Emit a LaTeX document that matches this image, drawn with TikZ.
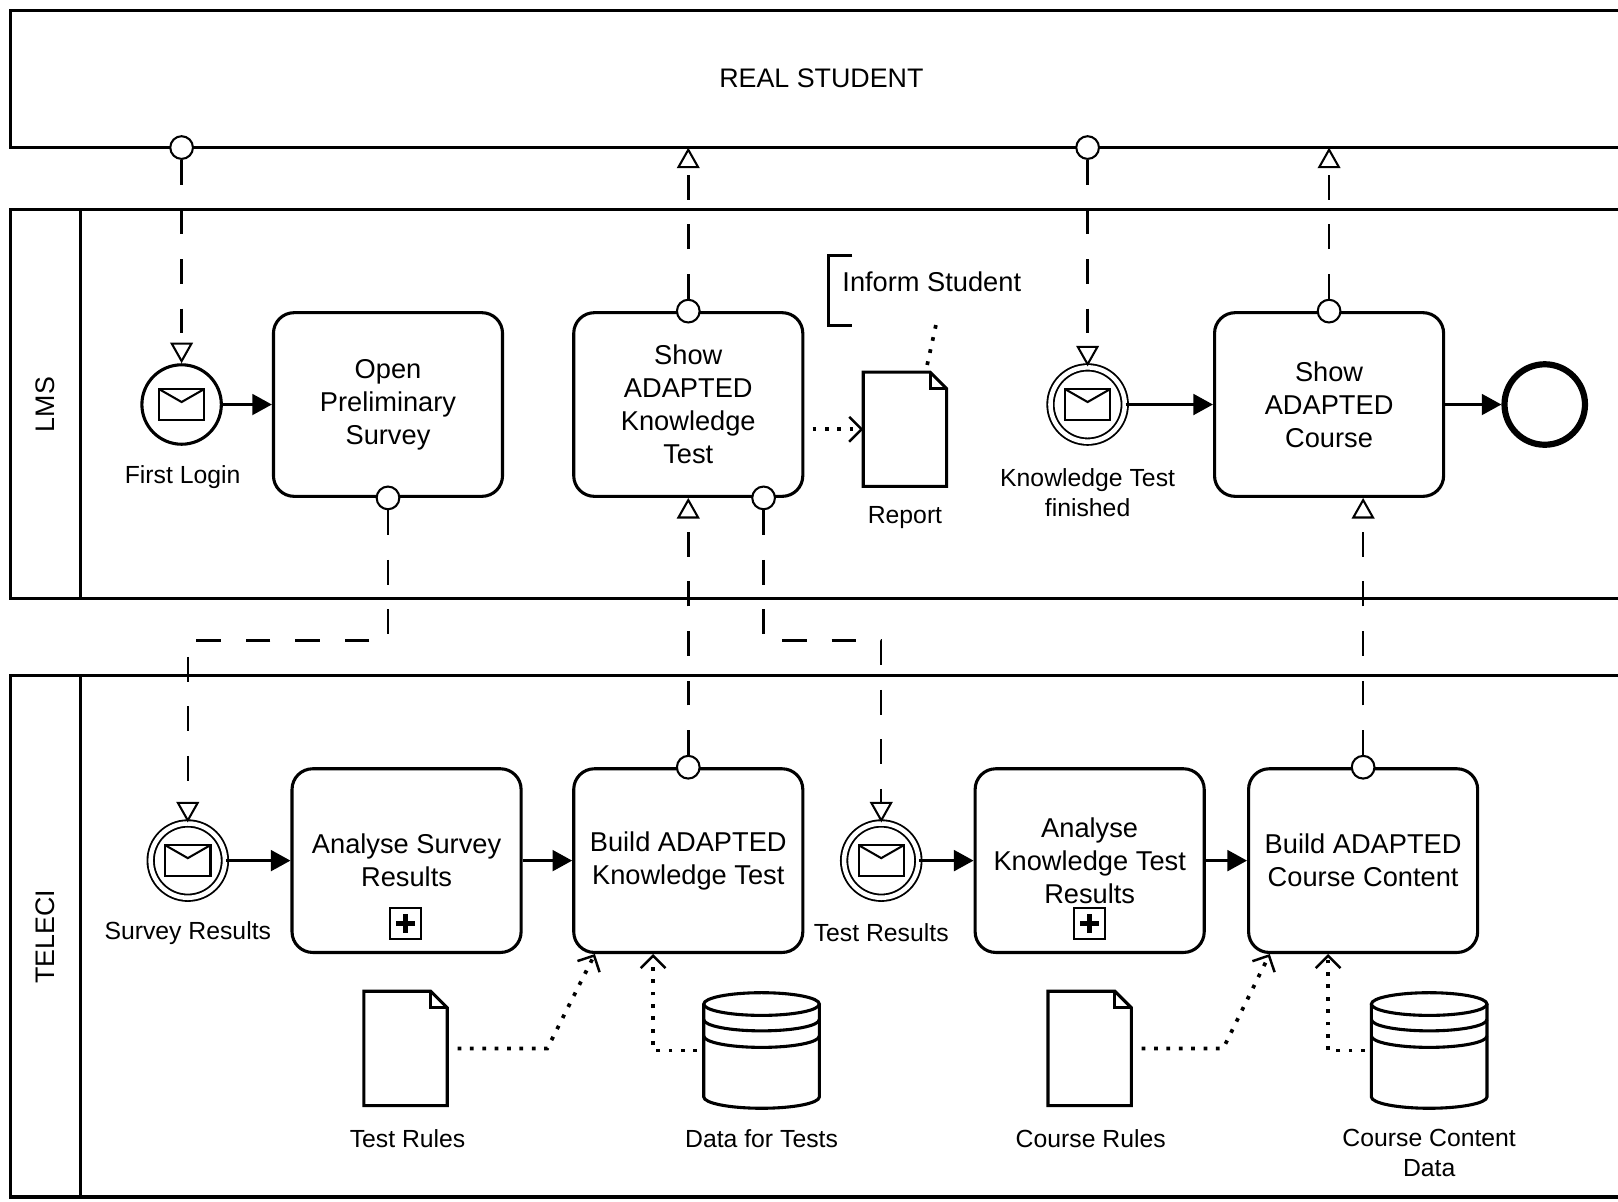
\documentclass[tikz,border=0pt]{standalone}
\usepackage{fontspec}
\setmainfont{Liberation Sans}
\usetikzlibrary{arrows.meta}

\newcommand\drawdoc[1]{%
  \draw[line width=1.5pt] (#1.south west) -- (#1.north west) -- ([xshift=-8pt]#1.north east)
    -- ([yshift=-8pt]#1.north east) -- (#1.south east) -- cycle;
  \draw[line width=1.5pt] ([xshift=-8pt]#1.north east) |- ([yshift=-8pt]#1.north east);
}
\newcommand\drawstore[1]{%
  \begin{scope}[shift={(#1.center)}, line width=1.5pt]
    \draw (-28pt,22.5pt) -- (-28pt,-22.5pt) arc[start angle=180, end angle=360, x radius=28pt, y radius=5.5pt] -- (28pt,22.5pt);
    \draw (0pt,22.5pt) ellipse[x radius=28pt, y radius=5.5pt];
    \draw (-28pt,15pt) arc[start angle=180, end angle=360, x radius=28pt, y radius=5.5pt];
    \draw (-28pt,7pt) arc[start angle=180, end angle=360, x radius=28pt, y radius=5.5pt];
  \end{scope}
}

\begin{document}
\begin{tikzpicture}[x=0.5pt,y=-0.5pt]
\tikzset{
  poolline/.style={line width=1.5pt},
  title/.style={font=\fontsize{13}{16}\selectfont},
  task/.style={draw, line width=1.5pt, rounded corners=10pt, minimum width=111pt, minimum height=89pt,
    align=center, font=\fontsize{13.2}{16}\selectfont},
  lbl/.style={align=center, inner sep=0pt, font=\fontsize{12}{14.5}\selectfont},
  startevt/.style={circle, draw, line width=1.5pt, minimum size=38.5pt, inner sep=0pt},
  midevt/.style={circle, draw, double, line width=0.9pt, double distance=2.2pt, minimum size=36pt, inner sep=0pt},
  endevt/.style={circle, draw, line width=3pt, minimum size=39pt, inner sep=0pt},
  mail/.style={path picture={
    \begin{scope}[shift={(path picture bounding box.center)}, line width=1pt]
      \draw (-11pt,7.5pt) rectangle (11pt,-7.5pt);
      \draw (-11pt,7.5pt) -- (0pt,1.2pt) -- (11pt,7.5pt);
    \end{scope}}},
  collapsed/.style={draw, line width=1pt, minimum size=15pt, inner sep=0pt, path picture={
    \draw[line width=2.2pt] ([yshift=-3pt]path picture bounding box.north) -- ([yshift=3pt]path picture bounding box.south);
    \draw[line width=2.2pt] ([xshift=3pt]path picture bounding box.west) -- ([xshift=-3pt]path picture bounding box.east);}},
  port/.style={circle, draw, fill=white, line width=1pt, minimum size=11pt, inner sep=0pt},
  docnode/.style={rectangle, minimum width=40pt, minimum height=55pt, inner sep=0pt},
  storenode/.style={rectangle, minimum width=56pt, minimum height=56pt, inner sep=0pt},
  seq/.style={line width=1.5pt, -{Triangle[length=9.5pt, width=10pt]}},
  msg/.style={line width=1.2pt, dash pattern=on 12pt off 12pt, -{Triangle[open, length=10pt, width=11pt, line width=1pt]}},
  dotline/.style={line width=1.8pt, dash pattern=on 1.8pt off 4.2pt},
  assoc/.style={dotline, -{Straight Barb[length=6pt, width=12pt, line width=1.2pt]}}
}
\fill[white] (0,0) rectangle (1568,1164);
\useasboundingbox (0,0) rectangle (1568,1164);

% pools
\draw[poolline] (1568,10) -- (10,10) -- (10,143) -- (1568,143);
\draw[poolline] (1568,203) -- (10,203) -- (10,580) -- (1568,580);
\draw[poolline] (78,203) -- (78,580);
\draw[poolline] (1568,655) -- (10,655) -- (10,1160) -- (1568,1160);
\draw[poolline] (78,655) -- (78,1160);
\node[title] (student) at (796,76) {REAL STUDENT};
\node[title, rotate=90] (lms) at (44,392) {LMS};
\node[title, rotate=90] (teleci) at (44,908) {TELECI};
\coordinate (stud1) at (667,143);
\coordinate (stud2) at (1288,143);

% LMS
\node[startevt, mail] (login) at (176,392) {};
\node[lbl] (loginlbl) at (177,462) {First Login};
\node[task] (opensurvey) at (376,392) {Open\\Preliminary\\Survey};
\node[task] (showtest) at (667,392) {Show\\ADAPTED\\Knowledge\\Test};
\node[docnode] (report) at (877,416) {};
\drawdoc{report}
\node[lbl] (reportlbl) at (877,502) {Report};
\node[lbl, anchor=west, inner xsep=6.5pt, font=\fontsize{13.2}{16}\selectfont] (inform) at (803,273) {Inform Student};
\draw[line width=1.5pt] ([shift={(11.5pt,12.5pt)}]inform.west) -- ([yshift=12.5pt]inform.west)
  -- ([yshift=-21pt]inform.west) -- ([shift={(11.5pt,-21pt)}]inform.west);
\node[midevt, mail] (ktdone) at (1054,392) {};
\node[lbl] (ktdonelbl) at (1054,477) {Knowledge Test\\finished};
\node[task] (showcourse) at (1288,392) {Show\\ADAPTED\\Course};
\node[endevt] (finish) at (1497,392) {};

% TELECI
\node[midevt, mail] (svres) at (182,834) {};
\node[lbl] (svreslbl) at (182,904) {Survey Results};
\node[task] (ansurvey) at (394,834) {Analyse Survey\\Results};
\node[collapsed] (ansurveyplus) at (393,895) {};
\node[task] (buildtest) at (667,834) {Build ADAPTED\\Knowledge Test};
\node[midevt, mail] (tsres) at (854,834) {};
\node[lbl] (tsreslbl) at (854,904) {Test Results};
\node[task] (antest) at (1056,834) {Analyse\\Knowledge Test\\Results};
\node[collapsed] (antestplus) at (1056,895) {};
\node[task] (buildcourse) at (1321,834) {Build ADAPTED\\Course Content};
\node[docnode] (testrules) at (393,1016) {};
\drawdoc{testrules}
\node[lbl] (testruleslbl) at (395,1103) {Test Rules};
\node[storenode] (testdata) at (738,1018) {};
\drawstore{testdata}
\node[lbl] (testdatalbl) at (738,1103) {Data for Tests};
\node[docnode] (courserules) at (1056,1016) {};
\drawdoc{courserules}
\node[lbl] (courseruleslbl) at (1057,1103) {Course Rules};
\node[storenode] (coursedata) at (1385,1018) {};
\drawstore{coursedata}
\node[lbl] (coursedatalbl) at (1385,1117) {Course Content\\Data};

% ports
\node[port] (loginport) at (176,143) {};
\node[port] (ktport) at (1054,143) {};
\node[port] (showtesttop) at (showtest.north) {};
\node[port] (showtestbot) at ([xshift=36.5pt]showtest.south) {};
\node[port] (showcoursetop) at (showcourse.north) {};
\node[port] (opensurveybot) at (opensurvey.south) {};
\node[port] (buildtesttop) at (buildtest.north) {};
\node[port] (buildcoursetop) at (buildcourse.north) {};

% sequence flows
\draw[seq] (login) -- (opensurvey);
\draw[seq] (ktdone) -- (showcourse);
\draw[seq] (showcourse) -- (finish);
\draw[seq] (svres) -- (ansurvey);
\draw[seq] (ansurvey) -- (buildtest);
\draw[seq] (tsres) -- (antest);
\draw[seq] (antest) -- (buildcourse);

% message flows
\draw[msg] (loginport) -- (login);
\draw[msg] (showtesttop) -- (stud1);
\draw[msg] (ktport) -- (ktdone);
\draw[msg] (showcoursetop) -- (stud2);
\draw[msg] (opensurveybot) -- ++(0,138) -| (svres);
\draw[msg] (showtestbot) -- ++(0,138) -| (tsres);
\draw[msg] (buildtesttop) -- (showtest.south);
\draw[msg] (buildcoursetop) -- (buildcoursetop |- showcourse.south);

% associations
\draw[assoc, shorten <=4pt] (showtest.east |- report.west) -- (report.west);
\draw[dotline] ([shift={(52pt,-21pt)}]inform.west) -- ([xshift=10pt]report.north);
\draw[assoc] ([xshift=5pt]testrules.east) -- ++(87,0) -- ([xshift=11pt]buildtest.south west);
\draw[assoc] ([xshift=-3pt]testdata.west) -| ([xshift=-17pt]buildtest.south);
\draw[assoc] ([xshift=5pt]courserules.east) -- ++(79,0) -- ([xshift=11pt]buildcourse.south west);
\draw[assoc] ([xshift=-3pt]coursedata.west) -| ([xshift=-17pt]buildcourse.south);
\end{tikzpicture}
\end{document}
